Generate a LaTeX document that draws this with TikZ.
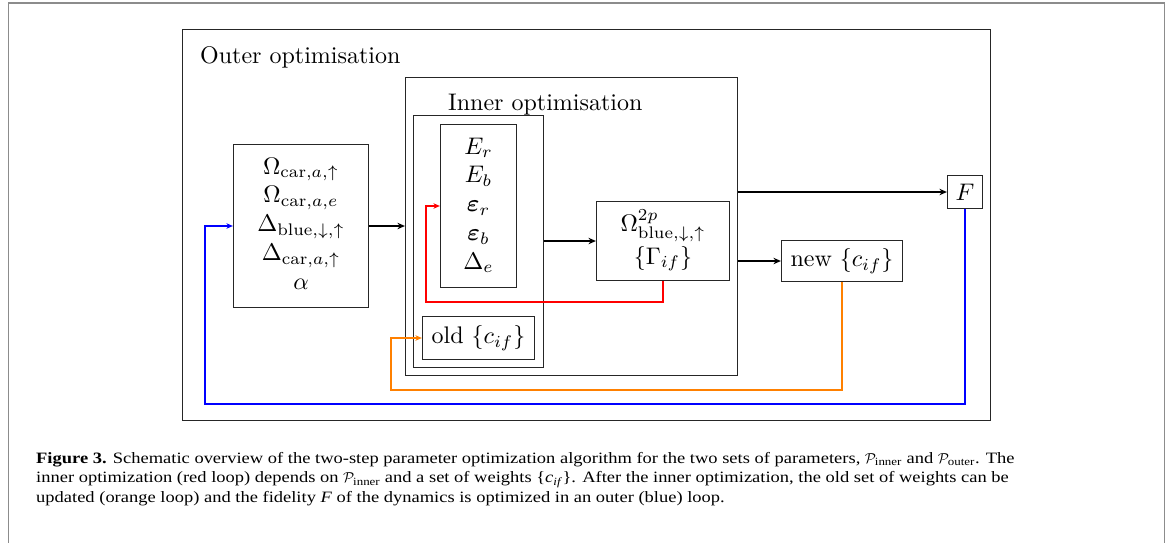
\documentclass[tikz,border=0pt]{standalone}
\usepackage{fontspec}
\usepackage{amsmath,bm,graphicx}
\usetikzlibrary{arrows.meta}
\newfontfamily\capfont[FakeStretch=1.17]{Liberation Serif}
\definecolor{loopred}{RGB}{255,0,0}
\definecolor{loopblue}{RGB}{0,0,255}
\definecolor{looporange}{RGB}{255,128,0}
\definecolor{framegrey}{RGB}{140,140,140}

% diagram text is set at 10pt and enlarged
\newcommand{\dtxt}[1]{\scalebox{2.4}{#1}}
\newcommand{\dstack}[1]{\dtxt{\begin{tabular}{@{}c@{}}#1\end{tabular}}}
% weight set in the caption's own italic
\newcommand{\wset}{\{\textit{c}\textsubscript{\textit{if}}\}}

\tikzset{
  box/.style={draw=black!85, line width=1.2pt, inner sep=0pt, align=center},
  title/.style={inner sep=0pt, anchor=base west},
  flow/.style={line width=2pt, -{Stealth[length=7.5pt,width=6.5pt,inset=2.5pt]}},
  loop/.style={line width=2pt, -{Stealth[length=6.5pt,width=5.5pt,inset=2pt]}},
  capline/.style={inner sep=0pt, anchor=base west, font=\capfont\fontsize{15.8}{19.5}\selectfont}
}

\begin{document}
\begin{tikzpicture}[x=1pt, y=-1pt]
\useasboundingbox (0,0) rectangle (1171,542);

% page frame, open at the bottom
\draw[framegrey, line width=1.5pt] (8.7,548) |- (1164.7,3) -- (1164.7,548);

% containers
\node[box, minimum width=808pt, minimum height=391pt] (outer) at (586.5,225) {};
\node[title] (outertitle) at (200,63) {\dtxt{Outer optimisation}};
\node[box, minimum width=332pt, minimum height=298pt] (inner) at (571.5,226.5) {};
\node[title] (innertitle) at (448,110.6) {\dtxt{Inner optimisation}};
\node[box, minimum width=130pt, minimum height=252pt] (innerloop) at (478.5,241.5) {};

% parameter boxes
\node[box, minimum width=135pt, minimum height=163pt] (params) at (301,226)
  {\dstack{$\Omega_{\mathrm{car},a,\uparrow}$\\ $\Omega_{\mathrm{car},a,e}$\\ $\Delta_{\mathrm{blue},\downarrow,\uparrow}$\\ $\Delta_{\mathrm{car},a,\uparrow}$\\ $\alpha$}};
\node[box, minimum width=76pt, minimum height=163pt] (ebox) at (478.5,206)
  {\dstack{$E_r$\\ $E_b$\\ $\bm{\varepsilon}_r$\\ $\bm{\varepsilon}_b$\\ $\Delta_e$}};
\node[box, minimum width=112pt, minimum height=43pt] (oldbox) at (478.5,338)
  {\dtxt{old $\{c_{if}\}$}};
\node[box, minimum width=133pt, minimum height=79pt] (omega) at (663,241)
  {\dstack{$\Omega^{2p}_{\mathrm{blue},\downarrow,\uparrow}$\\[1.5pt] $\{\Gamma_{if}\}$}};
\node[box, minimum width=121pt, minimum height=41pt] (newbox) at (842,261)
  {\dtxt{new $\{c_{if}\}$}};
\node[box, minimum width=35pt, minimum height=33pt] (fbox) at (965,192) {\dtxt{$F$}};

% forward flow
\draw[flow] (params.east) -- (params.east -| inner.west);
\draw[flow] (innerloop.east |- omega.west) -- (omega.west);
\draw[flow] (inner.east |- fbox.west) -- (fbox.west);
\draw[flow] (inner.east |- newbox.west) -- (newbox.west);

% feedback loops
\coordinate (redturn) at (426,302);
\coordinate (orangeturn) at (391,390);
\coordinate (blueturn) at (205,404);
\draw[loop, loopred] (omega.south) |- (redturn) |- (ebox.west);
\draw[loop, looporange] (newbox.south) |- (orangeturn) |- (oldbox.west);
\draw[loop, loopblue] (fbox.south) |- (blueturn) |- (params.west);

% caption
\node[capline] (cap1) at (36,463.3) {{\bfseries Figure 3.} Schematic overview of the two-step parameter optimization algorithm for the two sets of parameters, $\mathcal{P}_{\text{inner}}$ and $\mathcal{P}_{\text{outer}}$. The};
\node[capline] (cap2) at (36,482.7) {inner optimization (red loop) depends on $\mathcal{P}_{\text{inner}}$ and a set of weights \wset. After the inner optimization, the old set of weights can be};
\node[capline] (cap3) at (36,502) {updated (orange loop) and the fidelity \textit{F} of the dynamics is optimized in an outer (blue) loop.};
\end{tikzpicture}
\end{document}
